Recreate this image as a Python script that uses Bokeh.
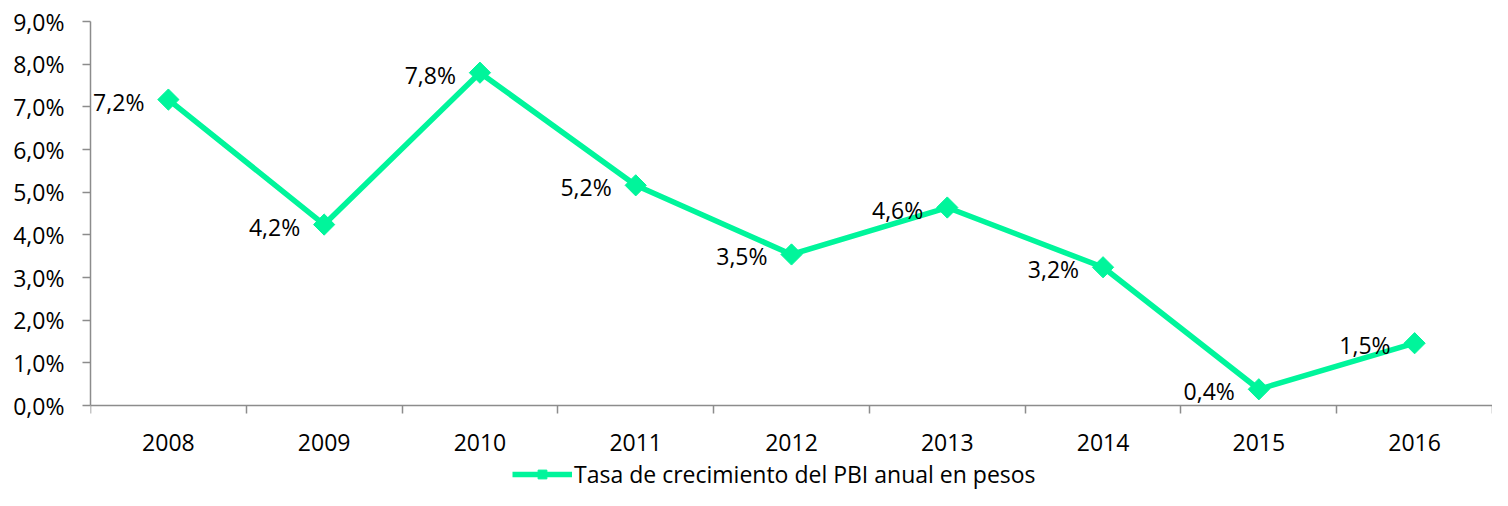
import math
from bokeh.plotting import figure
from bokeh.models import Range1d, FixedTicker, Legend, LegendItem
from bokeh.core.properties import value
from bokeh.embed import file_html
from bokeh.resources import INLINE

# ---- data ----
years = ["2008", "2009", "2010", "2011", "2012", "2013", "2014", "2015", "2016"]
growth = [7.17, 4.24, 7.80, 5.16, 3.54, 4.64, 3.24, 0.38, 1.46]
y_ticks = [0, 1, 2, 3, 4, 5, 6, 7, 8, 9]
y_tick_labels = ["0,0%", "1,0%", "2,0%", "3,0%", "4,0%", "5,0%", "6,0%", "7,0%", "8,0%", "9,0%"]
series_name = "Tasa de crecimiento del PBI anual en pesos"

FONT = "Open Sans"
FS = "23px"
LINE_COLOR = "#00F59B"
AXIS_COLOR = "#8C8C8C"

W, H = 1492, 490
TOP, AXIS_Y = 21, 405          # pixel rows of the 9% top and of the 0% axis
y_max = y_ticks[-1]
y_min = -y_max * (H - AXIS_Y) / (AXIS_Y - TOP)   # room below the axis for labels + legend

xs = [i + 0.5 for i in range(len(years))]
point_labels = [f"{v:.1f}%".replace(".", ",") for v in growth]

p = figure(width=W, height=H, output_backend="svg", toolbar_location=None,
           x_range=Range1d(0, len(years)), y_range=Range1d(y_min, y_max),
           min_border_left=90, min_border_right=0, min_border_top=TOP,
           min_border_bottom=0)
p.outline_line_color = None
p.xgrid.visible = False
p.ygrid.visible = False

# x axis drawn at y = 0; labels at centers, ticks at category boundaries
xa = p.xaxis[0]
xa.fixed_location = 0
xa.ticker = FixedTicker(ticks=xs, minor_ticks=list(range(len(years) + 1)))
xa.major_label_overrides = {x: y for x, y in zip(xs, years)}
xa.major_tick_out = 0
xa.major_tick_in = 0
xa.minor_tick_out = 8
xa.minor_tick_in = 0
xa.minor_tick_line_color = AXIS_COLOR
xa.minor_tick_line_width = 1.5
xa.axis_line_color = AXIS_COLOR
xa.axis_line_width = 1.5
xa.major_label_text_font = FONT
xa.major_label_text_font_size = FS
xa.major_label_text_color = "black"
xa.major_label_standoff = 20

ya = p.yaxis[0]
ya.bounds = (0, y_max)
ya.ticker = FixedTicker(ticks=y_ticks, minor_ticks=[])
ya.major_label_overrides = {t: l for t, l in zip(y_ticks, y_tick_labels)}
ya.major_tick_out = 8
ya.major_tick_in = 0
ya.major_tick_line_color = AXIS_COLOR
ya.major_tick_line_width = 1.5
ya.minor_tick_line_color = None
ya.axis_line_color = AXIS_COLOR
ya.axis_line_width = 1.5
ya.major_label_text_font = FONT
ya.major_label_text_font_size = FS
ya.major_label_text_color = "black"
ya.major_label_standoff = 18

line = p.line(xs, growth, line_color=LINE_COLOR, line_width=5.5)
pts = p.scatter(xs, growth, marker="square", size=15, angle=math.pi / 4,
                fill_color=LINE_COLOR, line_color=LINE_COLOR)

p.text(x=xs, y=growth, text=point_labels, text_align="right",
       text_baseline="middle", x_offset=-24, y_offset=2,
       text_font=value(FONT), text_font_size=FS, text_color="black")

legend = Legend(items=[LegendItem(label=series_name, renderers=[line, pts])],
                location=(422, 0), orientation="horizontal",
                label_text_font=FONT, label_text_font_size=FS,
                label_text_color="black", glyph_width=60, glyph_height=22,
                label_standoff=2, padding=0, margin=0, border_line_color=None,
                background_fill_alpha=0)
p.add_layout(legend, "center")

open("out.html", "w").write(file_html(p, INLINE))
